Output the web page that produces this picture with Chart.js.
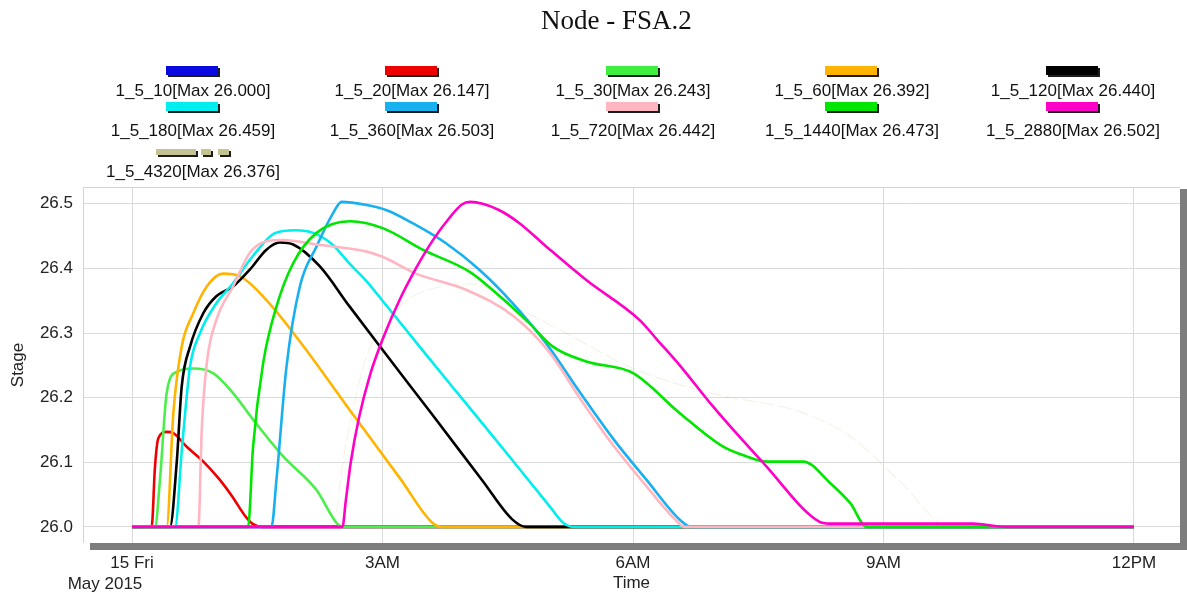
<!DOCTYPE html>
<html>
<head>
<meta charset="utf-8">
<script src="https://cdn.jsdelivr.net/npm/chart.js@4.4.1/dist/chart.umd.min.js"></script>
<style>
  html, body { margin: 0; padding: 0; background: #fff; }
  #wrap { position: relative; width: 1187px; height: 594px; font-family: "Liberation Sans", Arial, sans-serif; }
  #chart { position: absolute; left: 0; top: 0; }
  #title { position: absolute; top: 4px; left: 23px; width: 1187px; text-align: center; line-height: 32px;
           font-family: "Liberation Serif", "Times New Roman", serif; font-size: 27px; color: #111; }
  .lbl { position: absolute; width: 240px; text-align: center; font-size: 17px; line-height: 20px; color: #111; white-space: nowrap; }
  .sw { position: absolute; height: 9px; box-shadow: 2px 2px 0 #1c1c1c; }
</style>
</head>
<body>
<div id="wrap">
  <canvas id="chart" width="1187" height="594"></canvas>
  <div id="title">Node - FSA.2</div>
  <div id="legend"></div>
</div>
<script>
// series names, maxima and colours
const seriesNames = ['1_5_10', '1_5_20', '1_5_30', '1_5_60', '1_5_120', '1_5_180', '1_5_360', '1_5_720', '1_5_1440', '1_5_2880', '1_5_4320'];
const seriesMax = ['26.000', '26.147', '26.243', '26.392', '26.440', '26.459', '26.503', '26.442', '26.473', '26.502', '26.376'];
const seriesColors = ['#0000e0', '#ee0000', '#4cee4c', '#ffb400', '#000000', '#00eeee', '#18b0ee', '#ffb6c1', '#00e600', '#ff00c8', 'rgba(205,200,150,0.22)'];
const legendColors = ['#0a0ae0', '#ee0000', '#40ee40', '#ffb400', '#000000', '#00eeee', '#18b0ee', '#ffb6c1', '#00e600', '#ff00c8', '#c4c492'];

// time in hours from 15 May 2015 00:00, stage values
const t10 = [0, 12];
const s10 = [26.0, 26.0];
const t20 = [0, 0.235, 0.275, 0.315, 0.415, 0.495, 0.655, 0.855, 1.05, 1.2, 1.36, 1.44, 1.56, 12];
const s20 = [26.0, 26.0, 26.093, 26.137, 26.147, 26.145, 26.124, 26.101, 26.073, 26.047, 26.016, 26.005, 26.0, 26.0];
const t30 = [0, 0.275, 0.335, 0.415, 0.535, 0.735, 0.97, 1.21, 1.45, 1.81, 2.21, 2.45, 2.52, 12];
const s30 = [26.0, 26.0, 26.073, 26.207, 26.240, 26.245, 26.238, 26.207, 26.166, 26.109, 26.057, 26.006, 26.0, 26.0];
const t60 = [0, 0.415, 0.495, 0.595, 0.735, 0.895, 1.09, 1.29, 1.61, 2.01, 2.68, 3.21, 3.6, 3.72, 12];
const s60 = [26.0, 26.0, 26.176, 26.279, 26.331, 26.372, 26.392, 26.388, 26.351, 26.287, 26.168, 26.075, 26.006, 26.0, 26.0];
const t120 = [0, 0.455, 0.535, 0.595, 0.695, 0.855, 1.01, 1.21, 1.41, 1.61, 1.77, 1.93, 2.25, 2.6, 3.0, 3.6, 4.2, 4.55, 4.72, 12];
const s120 = [26.0, 26.0, 26.099, 26.217, 26.279, 26.331, 26.357, 26.372, 26.398, 26.429, 26.440, 26.437, 26.403, 26.342, 26.274, 26.173, 26.071, 26.012, 26.0, 26.0];
const t180 = [0, 0.515, 0.6, 0.695, 0.815, 1.01, 1.21, 1.44, 1.72, 1.96, 2.17, 2.41, 2.6, 2.81, 3.0, 3.5, 4.0, 4.5, 5.0, 5.165, 5.3, 12];
const s180 = [26.0, 26.0, 26.124, 26.248, 26.3, 26.346, 26.377, 26.418, 26.455, 26.459, 26.455, 26.436, 26.408, 26.38, 26.35, 26.27, 26.191, 26.112, 26.032, 26.006, 26.0, 26.0];
const t360 = [0, 1.67, 1.73, 1.85, 2.01, 2.21, 2.41, 2.51, 2.81, 3.05, 3.36, 3.76, 4.16, 4.56, 4.96, 5.37, 5.77, 6.16, 6.56, 6.7, 12];
const s360 = [26.0, 26.0, 26.073, 26.248, 26.372, 26.434, 26.486, 26.503, 26.498, 26.49, 26.470, 26.439, 26.398, 26.346, 26.284, 26.207, 26.135, 26.073, 26.011, 26.0, 26.0];
const t720 = [0, 0.795, 0.835, 0.895, 1.01, 1.21, 1.41, 1.61, 1.81, 2.21, 2.81, 3.0, 3.4, 4.0, 4.57, 5.0, 5.37, 5.77, 6.16, 6.5, 6.62, 12];
const s720 = [26.0, 26.0, 26.15, 26.253, 26.32, 26.372, 26.424, 26.442, 26.444, 26.437, 26.426, 26.418, 26.392, 26.367, 26.326, 26.27, 26.198, 26.125, 26.063, 26.012, 26.0, 26.0];
const t1440 = [0, 1.39, 1.45, 1.57, 1.73, 1.93, 2.21, 2.61, 3.01, 3.48, 4.04, 4.36, 4.76, 5.04, 5.44, 6.0, 6.56, 7.08, 7.36, 7.6, 8.04, 8.36, 8.6, 8.8, 12];
const s1440 = [26.0, 26.0, 26.124, 26.253, 26.341, 26.408, 26.455, 26.473, 26.462, 26.429, 26.395, 26.362, 26.315, 26.279, 26.256, 26.238, 26.176, 26.124, 26.109, 26.101, 26.101, 26.068, 26.037, 26.0, 26.0];
const t2880 = [0, 2.52, 2.56, 2.62, 2.72, 2.85, 3.0, 3.2, 3.4, 3.6, 3.8, 3.95, 4.05, 4.2, 4.4, 4.64, 4.96, 5.44, 6.08, 6.3, 6.56, 6.96, 7.56, 8.23, 8.35, 10.07, 10.47, 12];
const s2880 = [26.0, 26.0, 26.04, 26.10, 26.17, 26.235, 26.29, 26.35, 26.40, 26.443, 26.478, 26.499, 26.503, 26.5, 26.49, 26.470, 26.434, 26.382, 26.32, 26.288, 26.25, 26.186, 26.099, 26.008, 26.005, 26.005, 26.0, 26.0];
const t4320 = [0, 2.4, 2.55, 2.8, 3.2, 3.7, 4.1, 4.6, 5.2, 6.0, 7.0, 8.0, 8.6, 9.2, 9.8, 12];
const s4320 = [26.0, 26.0, 26.12, 26.26, 26.34, 26.372, 26.376, 26.34, 26.30, 26.245, 26.205, 26.178, 26.14, 26.07, 26.0, 26.0];

const seriesTimes = [t10, t20, t30, t60, t120, t180, t360, t720, t1440, t2880, t4320];
const seriesStages = [s10, s20, s30, s60, s120, s180, s360, s720, s1440, s2880, s4320];

const xTickHours = [0, 3, 6, 9, 12];
const xTickLabels = ['15 Fri', '3AM', '6AM', '9AM', '12PM'];
const yTickValues = [26.0, 26.1, 26.2, 26.3, 26.4, 26.5];

// legend layout
const legendCols = [193, 412, 633, 852, 1073];
const legendSwatchTop = [66, 102, 148];
const legendTextTop = [81, 121, 162];

const legend = document.getElementById('legend');
seriesNames.forEach((name, i) => {
    const col = i % 5, row = Math.floor(i / 5);
    const cx = legendCols[col];
    if (name === '1_5_4320') {
        // dashed swatch
        [[-37, 40], [8, 10], [25, 11]].forEach(([dx, w]) => {
            const d = document.createElement('div');
            d.className = 'sw';
            d.style.cssText = `left:${cx + dx}px;top:${legendSwatchTop[row] + 1}px;width:${w}px;height:6px;background:${legendColors[i]};`;
            legend.appendChild(d);
        });
    } else {
        const d = document.createElement('div');
        d.className = 'sw';
        d.style.cssText = `left:${cx - 27}px;top:${legendSwatchTop[row]}px;width:52px;background:${legendColors[i]};`;
        legend.appendChild(d);
    }
    const l = document.createElement('div');
    l.className = 'lbl';
    l.style.left = (cx - 120) + 'px';
    l.style.top = legendTextTop[row] + 'px';
    l.textContent = `${name}[Max ${seriesMax[i]}]`;
    legend.appendChild(l);
});

const datasets = seriesNames.map((name, i) => ({
    label: name,
    data: seriesTimes[i].map((t, k) => ({ x: t, y: seriesStages[i][k] })),
    borderColor: seriesColors[i],
    borderWidth: name === '1_5_4320' ? 1.2 : 2.6,
    borderDash: name === '1_5_4320' ? [14, 4] : [],
    cubicInterpolationMode: 'monotone',
    pointRadius: 0,
    fill: false,
    order: name === '1_5_4320' ? 50 : 20 - i
}));

// plot frame with drop shadow and the date line under the first tick
const framePlugin = {
    id: 'frame',
    beforeDraw(chart) {
        const { ctx, chartArea: a } = chart;
        ctx.save();
        ctx.fillStyle = '#fff';
        ctx.fillRect(0, 0, chart.width, chart.height);
        ctx.fillStyle = '#7d7d7d';
        ctx.fillRect(a.left + 7, a.bottom, a.right - a.left, 7);
        ctx.fillRect(a.right, a.top + 2, 7, a.bottom - a.top + 5);
        ctx.strokeStyle = '#d3d3d3';
        ctx.lineWidth = 1;
        ctx.beginPath();
        ctx.moveTo(a.left + 0.5, a.bottom);
        ctx.lineTo(a.left + 0.5, a.top + 0.5);
        ctx.lineTo(a.right, a.top + 0.5);
        ctx.stroke();
        ctx.restore();
    },
    afterDraw(chart) {
        const ctx = chart.ctx;
        ctx.save();
        ctx.font = '17px "Liberation Sans", Arial, sans-serif';
        ctx.fillStyle = '#222';
        ctx.textAlign = 'center';
        ctx.textBaseline = 'middle';
        ctx.fillText('May 2015', 105, 584);
        ctx.restore();
    }
};

Chart.defaults.font.family = '"Liberation Sans", Arial, sans-serif';
Chart.defaults.font.size = 17;
Chart.defaults.color = '#222';

new Chart(document.getElementById('chart').getContext('2d'), {
    type: 'line',
    data: { datasets },
    plugins: [framePlugin],
    options: {
        responsive: false,
        animation: false,
        layout: { padding: { top: 187, right: 7, left: 0, bottom: 0 } },
        plugins: { legend: { display: false }, tooltip: { enabled: false } },
        scales: {
            x: {
                type: 'linear',
                min: -0.587,
                max: 12.551,
                afterBuildTicks: s => { s.ticks = xTickHours.map(v => ({ value: v })); },
                afterFit: s => { s.height = 51; },
                ticks: {
                    callback: v => xTickLabels[xTickHours.indexOf(v)],
                    padding: 10,
                    maxRotation: 0,
                    autoSkip: false
                },
                grid: { color: '#dadada', drawTicks: false },
                border: { display: false },
                title: { display: true, text: 'Time', padding: { top: 0, bottom: 0 } }
            },
            y: {
                min: 25.975,
                max: 26.526,
                afterBuildTicks: s => { s.ticks = yTickValues.map(v => ({ value: v })); },
                afterFit: s => { s.width = 83; },
                ticks: {
                    callback: v => v.toFixed(1),
                    padding: 10
                },
                grid: { color: '#dadada', drawTicks: false },
                border: { display: false },
                title: { display: true, text: 'Stage', padding: { top: 8, bottom: 0 } }
            }
        }
    }
});
</script>
</body>
</html>
